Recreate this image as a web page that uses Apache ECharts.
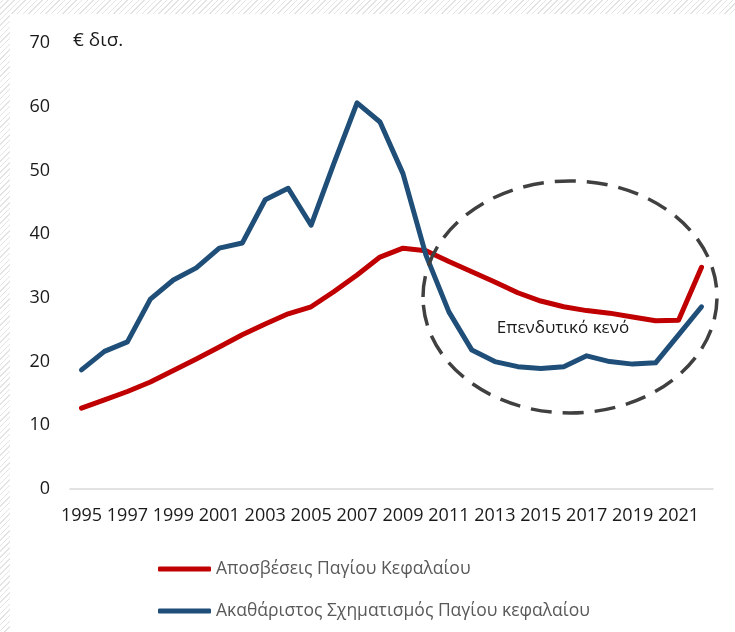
<!DOCTYPE html>
<html>
<head>
<meta charset="utf-8">
<script src="https://cdn.jsdelivr.net/npm/echarts@6/dist/echarts.min.js"></script>
<style>
  html, body { margin:0; padding:0; width:735px; height:632px; overflow:hidden; }
  body { background: repeating-linear-gradient(-45deg, #e4e4e4 0px, #e4e4e4 1px, #ffffff 1px, #ffffff 4px); position:relative; }
  #paper { position:absolute; left:10px; top:14px; width:725px; height:618px; background:#fff; }
  #chart { position:absolute; left:0; top:0; width:735px; height:632px; }
</style>
</head>
<body>
<div id="paper"></div>
<div id="chart"></div>
<script>
const years = ['1995','1996','1997','1998','1999','2000','2001','2002','2003','2004','2005','2006','2007','2008','2009','2010','2011','2012','2013','2014','2015','2016','2017','2018','2019','2020','2021','2022'];
const depreciation = [12.7,14.0,15.3,16.8,18.6,20.4,22.3,24.2,25.9,27.5,28.6,31.0,33.6,36.4,37.8,37.4,35.7,34.1,32.5,30.8,29.5,28.6,28.0,27.6,27.0,26.4,26.5,34.8];
const gfcf = [18.7,21.6,23.1,29.8,32.8,34.7,37.8,38.6,45.4,47.2,41.4,51.2,60.6,57.6,49.5,36.7,27.8,21.8,20.0,19.2,18.9,19.2,20.9,20.0,19.6,19.8,24.2,28.6];
const seriesNames = ['Αποσβέσεις Παγίου Κεφαλαίου', 'Ακαθάριστος Σχηματισμός Παγίου κεφαλαίου'];
const unitLabel = '€ δισ.';
const gapLabel = 'Επενδυτικό κενό';

const chart = echarts.init(document.getElementById('chart'), null, {renderer:'canvas'});
const font = '"Open Sans", "Noto Sans", sans-serif';
chart.setOption({
  backgroundColor: 'transparent',
  animation: false,
  textStyle: { fontFamily: font },
  grid: { left: 70, right: 22, top: 43, bottom: 143, containLabel: false },
  legend: {
    orient: 'vertical',
    left: 153, top: 555,
    itemWidth: 53, itemHeight: 5, itemGap: 24,
    icon: 'roundRect',
    textStyle: { color: '#595959', fontSize: 17.5, fontFamily: font },
    data: [
      { name: seriesNames[0], itemStyle:{ color:'#C00000', borderWidth:0 } },
      { name: seriesNames[1], itemStyle:{ color:'#1F4E79', borderWidth:0 } }
    ]
  },
  xAxis: {
    type: 'category',
    data: years,
    boundaryGap: true,
    axisLine: { lineStyle: { color: '#D9D9D9', width: 1.5 } },
    axisTick: { show: false },
    axisLabel: { interval: 1, color: '#1a1a1a', fontSize: 18, margin: 18, fontFamily: font }
  },
  yAxis: {
    type: 'value',
    min: 0, max: 70, interval: 10,
    axisLine: { show: false },
    axisTick: { show: false },
    splitLine: { show: false },
    axisLabel: { color: '#1a1a1a', fontSize: 18, margin: 20, fontFamily: font }
  },
  series: [
    { name: seriesNames[0], type: 'line', data: depreciation, symbol: 'none', smooth: false,
      lineStyle: { width: 5, color: '#C00000', cap:'round', join:'round' }, itemStyle:{color:'#C00000'}, z: 2 },
    { name: seriesNames[1], type: 'line', data: gfcf, symbol: 'none', smooth: false,
      lineStyle: { width: 5, color: '#1F4E79', cap:'round', join:'round' }, itemStyle:{color:'#1F4E79'}, z: 3 }
  ],
  graphic: [
    { type: 'text', left: 73, top: 31, style: { text: unitLabel, fill: '#1a1a1a', font: '19px ' + font } },
    { type: 'ellipse', z: 100, shape: { cx: 570, cy: 297, rx: 147, ry: 116 },
      style: { fill: 'none', stroke: '#404040', lineWidth: 3.5, lineDash: [21, 11] } },
    { type: 'text', z: 101, x: 563, y: 328, style: { text: gapLabel, fill: '#1a1a1a', font: '17px ' + font, align: 'center', verticalAlign: 'middle' } }
  ]
});
</script>
</body>
</html>
